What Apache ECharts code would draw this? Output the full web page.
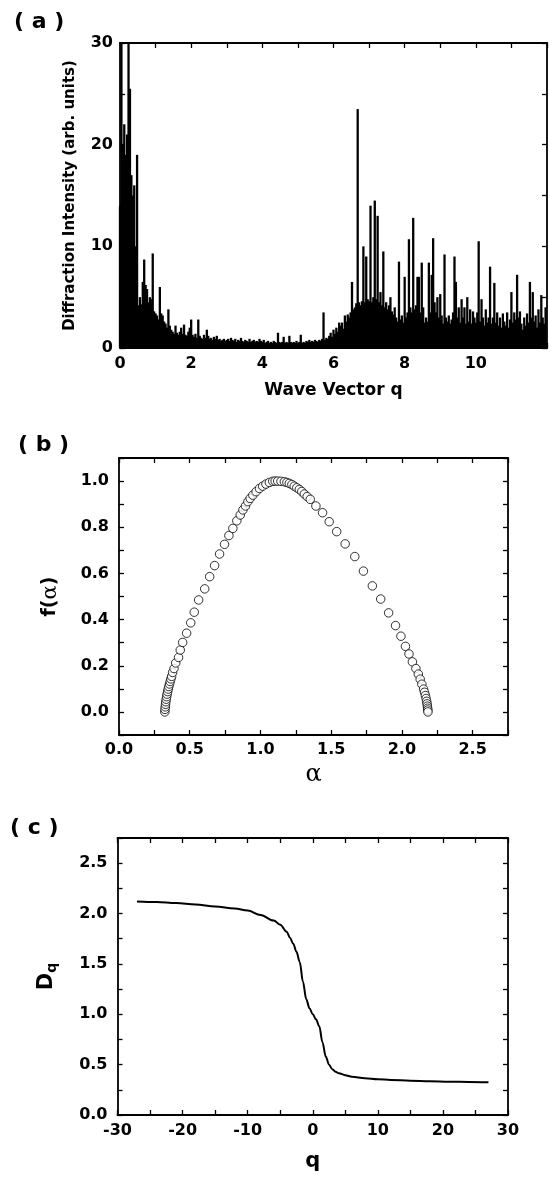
<!DOCTYPE html>
<html><head><meta charset="utf-8">
<script src="https://cdn.jsdelivr.net/npm/echarts@6/dist/echarts.min.js"></script>
<style>html,body{margin:0;padding:0;background:#fff}#c{width:550px;height:1181px}</style>
</head><body><div id="c"></div>
<script>
// ---------- Panel (a): diffraction intensity, sampled every 0.04 in q ----------
const intensityStep = 0.04;
const intensity = [
 14, 31, 20, 22, 19, 21, 31, 25.5, 17, 15, 16, 10, 19, 4.2, 5, 4.3, 6.5, 8.7, 6.2, 5.8, 4.5, 5.0, 4.8, 9.3, 3.6,
 3.4, 3.2, 2.8, 6.0, 3.4, 3.2, 2.6, 2.4, 2.0, 3.8, 2.2, 1.8, 1.6, 1.4, 2.2, 1.5, 1.3, 1.6, 2.0, 1.4, 2.3, 1.3, 1.2, 1.6, 2.0,
 2.8, 1.3, 1.1, 1.4, 1.0, 2.8, 1.2, 1.0, 0.9, 1.3, 1.0, 1.8, 1.2, 0.9, 1.0, 0.8, 1.1, 0.9, 1.2, 0.8, 0.9, 0.7, 0.8, 0.9, 0.7,
 0.8, 0.9, 0.7, 1.0, 0.8, 0.7, 0.9, 0.6, 0.8, 0.7, 1.0, 0.7, 0.6, 0.8, 0.7, 0.6, 0.9, 0.6, 0.7, 0.8, 0.6, 0.7, 0.6, 0.9, 0.7,
 0.6, 0.8, 0.5, 0.6, 0.7, 0.5, 0.6, 0.5, 0.7, 0.6, 0.5, 1.5, 0.6, 0.5, 0.6, 1.1, 0.5, 0.6, 0.5, 1.2, 0.6, 0.5, 0.6, 0.5, 0.7,
 0.5, 0.6, 1.3, 0.5, 0.6, 0.5, 0.7, 0.6, 0.8, 0.6, 0.7, 0.6, 0.8, 0.7, 0.6, 0.8, 0.7, 0.9, 3.5, 0.8, 1.0, 0.9, 1.2, 1.5, 1.1,
 1.8, 1.4, 2.0, 1.6, 2.5, 2.2, 2.5, 1.9, 3.2, 2.6, 3.3, 3.0, 3.5, 6.5, 3.8, 4.0, 4.4, 23.5, 4.5, 4.2, 4.6, 10.0, 4.5, 9.0, 4.8,
 4.6, 14.0, 4.5, 5.0, 14.5, 4.8, 13.0, 4.5, 5.5, 4.2, 9.5, 4.0, 4.5, 3.8, 4.2, 5.0, 3.6, 3.3, 4.0, 3.0, 2.6, 8.5, 2.8, 3.2, 2.5,
 7.0, 3.0, 3.5, 10.7, 4.0, 3.5, 12.8, 3.8, 4.2, 7.0, 7.0, 3.5, 8.4, 4.0, 2.5, 3.0, 2.6, 8.4, 3.5, 7.2, 10.8, 4.5, 3.5, 5.0, 3.0,
 5.3, 3.2, 2.4, 9.2, 3.0, 2.6, 3.2, 2.4, 2.8, 3.5, 9.0, 6.5, 3.0, 4.0, 2.5, 4.8, 3.0, 4.0, 2.4, 5.0, 2.6, 3.8, 2.4, 3.6, 3.0,
 2.5, 3.5, 10.5, 2.6, 4.8, 3.0, 2.2, 3.8, 2.5, 3.0, 8.0, 2.4, 3.0, 6.4, 2.5, 3.5, 2.2, 3.0, 2.0, 3.4, 2.6, 2.2, 3.5, 2.0, 2.8,
 5.5, 2.5, 3.5, 2.8, 7.2, 3.0, 3.6, 2.4, 1.8, 3.0, 2.2, 3.4, 2.5, 6.5, 3.0, 5.5, 2.6, 3.2, 2.0, 3.8, 2.5, 5.2, 3.0, 2.4, 4.0
];
const aXTicks = [0, 2, 4, 6, 8, 10];
const aYTicks = [0, 10, 20, 30];

// ---------- Panel (b): multifractal spectrum f(alpha) ----------
const alpha = [
 0.324, 0.325, 0.327, 0.329, 0.331, 0.334, 0.337, 0.340, 0.344, 0.348,
 0.352, 0.357, 0.362, 0.367, 0.372, 0.379, 0.389, 0.401, 0.421, 0.433,
 0.450, 0.478, 0.507, 0.532, 0.563, 0.606, 0.641, 0.676, 0.711, 0.746,
 0.777, 0.805, 0.833, 0.857, 0.876, 0.894, 0.911, 0.927, 0.946, 0.969,
 0.993, 1.016, 1.039, 1.063, 1.087, 1.104, 1.122, 1.145, 1.169, 1.187,
 1.204, 1.222, 1.239, 1.257, 1.275, 1.292, 1.310, 1.330, 1.352, 1.392,
 1.439, 1.486, 1.539, 1.599, 1.667, 1.728, 1.791, 1.850, 1.906, 1.955,
 1.993, 2.025, 2.050, 2.074, 2.099, 2.116, 2.129, 2.141, 2.153, 2.160,
 2.166, 2.171, 2.175, 2.178, 2.180, 2.182, 2.183, 2.184
];
const fAlpha = [
 0.000, 0.011, 0.022, 0.033, 0.044, 0.055, 0.066, 0.077, 0.088, 0.099,
 0.110, 0.121, 0.132, 0.143, 0.154, 0.171, 0.188, 0.212, 0.236, 0.268,
 0.301, 0.341, 0.386, 0.432, 0.485, 0.533, 0.586, 0.634, 0.684, 0.726,
 0.764, 0.795, 0.828, 0.853, 0.875, 0.892, 0.911, 0.925, 0.939, 0.954,
 0.968, 0.978, 0.987, 0.994, 0.999, 1.000, 1.000, 0.999, 0.997, 0.994,
 0.990, 0.985, 0.978, 0.971, 0.964, 0.955, 0.944, 0.933, 0.921, 0.892,
 0.863, 0.824, 0.781, 0.728, 0.673, 0.610, 0.546, 0.489, 0.429, 0.374,
 0.328, 0.284, 0.251, 0.217, 0.188, 0.164, 0.142, 0.120, 0.099, 0.085,
 0.071, 0.058, 0.046, 0.035, 0.025, 0.016, 0.008, 0.000
];
const bXTicks = [0, 0.5, 1.0, 1.5, 2.0, 2.5];
const bYTicks = [0, 0.2, 0.4, 0.6, 0.8, 1.0];

// ---------- Panel (c): generalized dimension D_q ----------
const qValues = [-27, -24, -21, -18, -15, -12, -10, -8, -6, -5, -4, -3.5, -3, -2.5, -2, -1.5, -1, -0.5, 0, 0.5, 1, 1.5, 2, 2.5, 3, 3.5, 4, 5, 6, 8, 10, 12, 15, 18, 21, 24, 27];
const dq = [2.12, 2.115, 2.105, 2.09, 2.07, 2.05, 2.03, 1.985, 1.93, 1.89, 1.82, 1.76, 1.70, 1.62, 1.52, 1.32, 1.15, 1.06, 1.0, 0.95, 0.88, 0.72, 0.58, 0.50, 0.455, 0.43, 0.415, 0.395, 0.38, 0.365, 0.355, 0.348, 0.34, 0.335, 0.33, 0.328, 0.325];
const cXTicks = [-30, -20, -10, 0, 10, 20, 30];
const cYTicks = [0, 0.5, 1.0, 1.5, 2.0, 2.5];

// ---------- drawing ----------
const FONT = 'DejaVu Sans';
function labelFrom(list, digits) {
  return function (v) {
    for (const t of list) if (Math.abs(t - v) < 1e-6) return digits ? t.toFixed(digits) : String(t);
    return '';
  };
}
function ax(extra) {
  return Object.assign({
    type: 'value',
    axisLine: { show: true, onZero: false, lineStyle: { color: '#000', width: 1.8 } },
    axisTick: { show: true, inside: true, length: 5, lineStyle: { color: '#000', width: 1.3 } },
    splitLine: { show: false },
    axisLabel: { show: false }
  }, extra);
}
function lbl(list, digits, margin) {
  return { show: true, formatter: labelFrom(list, digits), fontSize: 16, fontWeight: 'bold', color: '#000', fontFamily: FONT, margin: margin };
}
const nameStyle = { fontSize: 15, fontWeight: 'bold', color: '#000', fontFamily: FONT };

const chart = echarts.init(document.getElementById('c'), null, { renderer: 'canvas' });
const option = {
  animation: false,
  backgroundColor: '#fff',
  grid: [
    { left: 120, top: 43, width: 428, height: 305 },
    { left: 119, top: 458, width: 389, height: 277 },
    { left: 117.5, top: 838, width: 390.5, height: 277 }
  ],
  xAxis: [
    ax({ gridIndex: 0, min: 0, max: 12, interval: 1, position: 'bottom', axisLabel: lbl(aXTicks, 0, 8),
         name: 'Wave Vector q', nameLocation: 'middle', nameGap: 34, nameTextStyle: Object.assign({}, nameStyle, { fontSize: 17 }) }),
    ax({ gridIndex: 0, min: 0, max: 12, interval: 1, position: 'top' }),
    ax({ gridIndex: 1, min: 0, max: 2.75, interval: 0.25, position: 'bottom', axisLabel: lbl(bXTicks, 1, 7),
         name: 'α', nameLocation: 'middle', nameGap: 28, nameTextStyle: { fontSize: 24, fontFamily: 'DejaVu Serif', color: '#000' } }),
    ax({ gridIndex: 1, min: 0, max: 2.75, interval: 0.25, position: 'top' }),
    ax({ gridIndex: 2, min: -30, max: 30, interval: 5, position: 'bottom', axisLabel: lbl(cXTicks, 0, 8),
         name: 'q', nameLocation: 'middle', nameGap: 36, nameTextStyle: { fontSize: 21, fontWeight: 'bold', fontFamily: FONT, color: '#000' } }),
    ax({ gridIndex: 2, min: -30, max: 30, interval: 5, position: 'top' })
  ],
  yAxis: [
    ax({ gridIndex: 0, min: 0, max: 30, interval: 5, position: 'left', axisLabel: lbl(aYTicks, 0, 7),
         name: 'Diffraction Intensity (arb. units)', nameLocation: 'middle', nameGap: 42, nameTextStyle: nameStyle }),
    ax({ gridIndex: 0, min: 0, max: 30, interval: 5, position: 'right' }),
    ax({ gridIndex: 1, min: -0.1, max: 1.1, interval: 0.1, position: 'left', axisLabel: lbl(bYTicks, 1, 10),
         name: '{a|f(}{b|α}{a|)}', nameLocation: 'middle', nameGap: 58,
         nameTextStyle: { color: '#000', rich: {
           a: { fontSize: 19, fontWeight: 'bold', fontFamily: FONT, color: '#000' },
           b: { fontSize: 21, fontFamily: 'DejaVu Serif', color: '#000' } } } }),
    ax({ gridIndex: 1, min: -0.1, max: 1.1, interval: 0.1, position: 'right' }),
    ax({ gridIndex: 2, min: 0, max: 2.75, interval: 0.25, position: 'left', axisLabel: lbl(cYTicks, 1, 10),
         name: '{d|D}{s|q}', nameLocation: 'middle', nameGap: 58,
         nameTextStyle: { color: '#000', rich: {
           d: { fontSize: 21, fontWeight: 'bold', fontFamily: FONT, color: '#000' },
           s: { fontSize: 14, fontWeight: 'bold', fontFamily: FONT, color: '#000', padding: [11, 0, 0, 0] } } } }),
    ax({ gridIndex: 2, min: 0, max: 2.75, interval: 0.25, position: 'right' })
  ],
  series: [
    {
      type: 'bar', xAxisIndex: 0, yAxisIndex: 0, barWidth: 2.3, clip: true,
      itemStyle: { color: '#000' },
      data: intensity.map((v, i) => [Math.round(i * intensityStep * 100) / 100, v])
    },
    {
      type: 'scatter', xAxisIndex: 2, yAxisIndex: 2, symbol: 'circle', symbolSize: 8.5,
      itemStyle: { color: '#fff', borderColor: '#000', borderWidth: 1 },
      data: alpha.map((a, i) => [a, fAlpha[i]])
    },
    {
      type: 'line', xAxisIndex: 4, yAxisIndex: 4, showSymbol: false, smooth: 0.35, smoothMonotone: 'x',
      lineStyle: { color: '#000', width: 2 },
      data: qValues.map((q, i) => [q, dq[i]])
    }
  ],
  graphic: [
    { type: 'text', left: 14, top: 11, style: { text: '( a )', fontSize: 22, fontWeight: 'bold', fontFamily: FONT, fill: '#000' } },
    { type: 'text', left: 18, top: 434, style: { text: '( b )', fontSize: 22, fontWeight: 'bold', fontFamily: FONT, fill: '#000' } },
    { type: 'text', left: 10, top: 817, style: { text: '( c )', fontSize: 22, fontWeight: 'bold', fontFamily: FONT, fill: '#000' } }
  ]
};
chart.setOption(option);
</script>
</body></html>
